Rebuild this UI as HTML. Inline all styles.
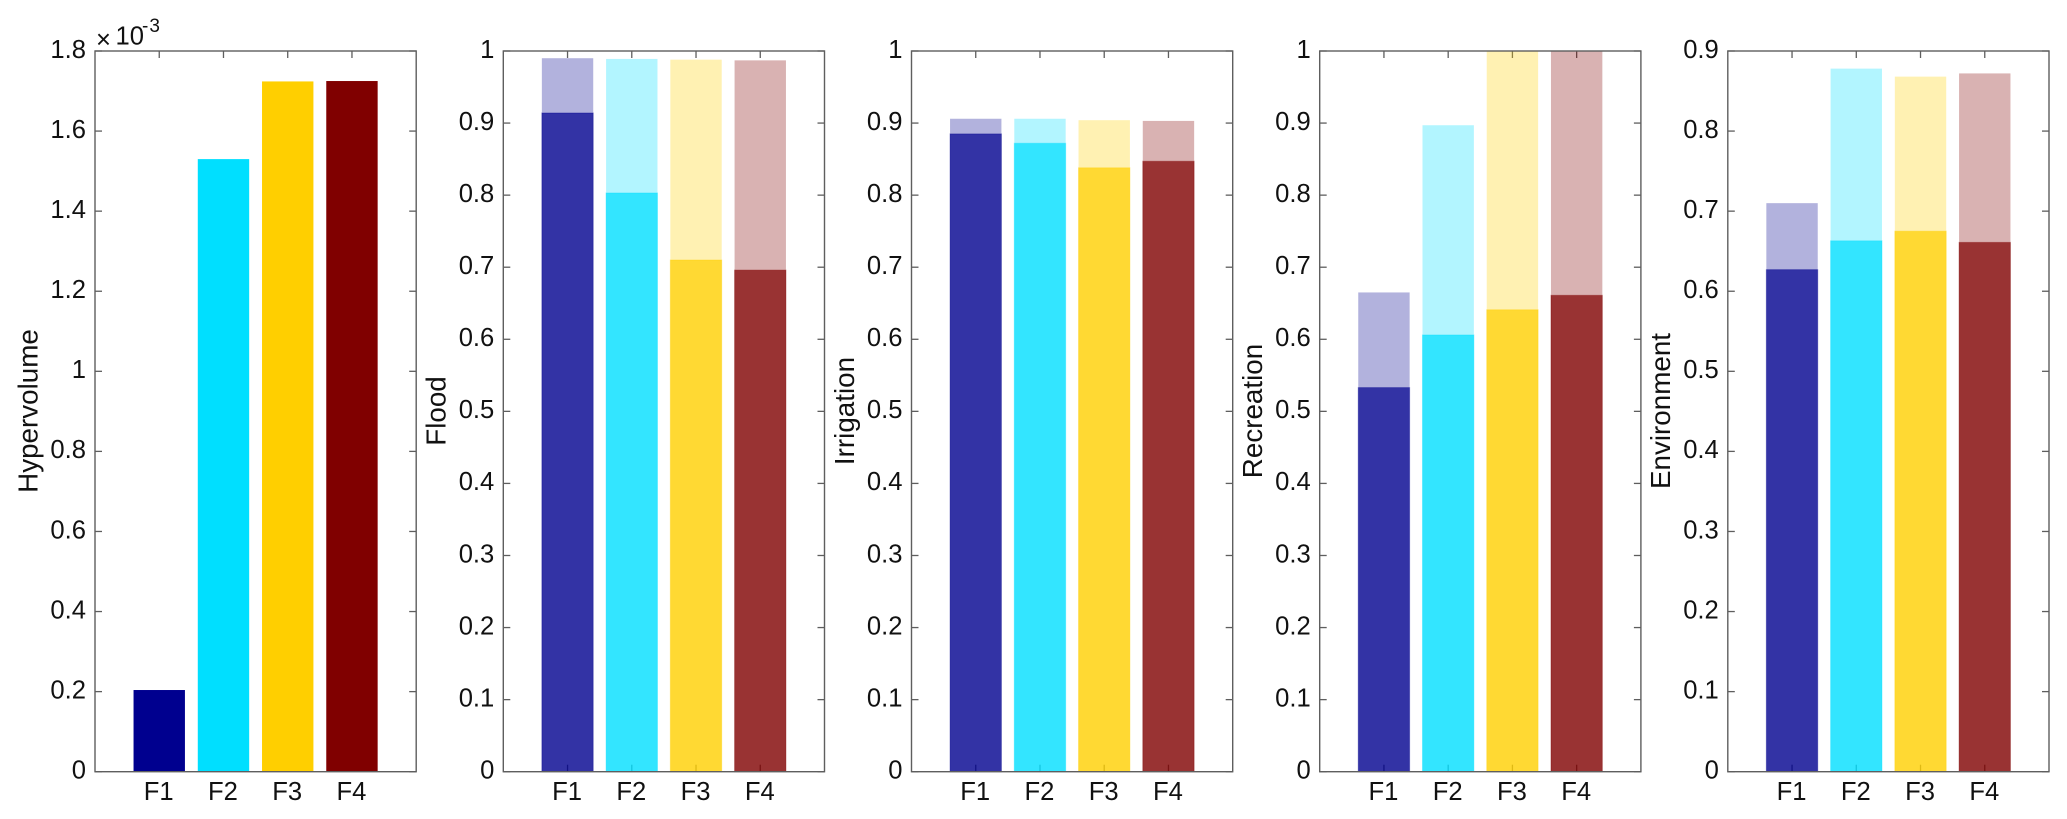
<!DOCTYPE html>
<html lang="en">
<head>
<meta charset="utf-8">
<title>Hypervolume and objective bar charts</title>
<style>
  html, body { margin: 0; padding: 0; background: #fff; }
  svg { display: block; font-family: "Liberation Sans", Arial, sans-serif; }
</style>
</head>
<body>
<svg id="chart" xmlns="http://www.w3.org/2000/svg" width="2067" height="819" viewBox="0 0 2067 819"></svg>
<script>
const categories = ['F1', 'F2', 'F3', 'F4'];
const hypervolumeValues = [0.204, 1.530, 1.724, 1.725];
const floodSolid = [0.914, 0.803, 0.710, 0.696];
const floodFaded = [0.990, 0.989, 0.988, 0.987];
const irrigationSolid = [0.885, 0.872, 0.838, 0.847];
const irrigationFaded = [0.906, 0.906, 0.904, 0.903];
const recreationSolid = [0.533, 0.606, 0.641, 0.661];
const recreationFaded = [0.665, 0.897, 1.0, 1.0];
const environmentSolid = [0.627, 0.663, 0.675, 0.661];
const environmentFaded = [0.710, 0.878, 0.868, 0.872];
const hypervolumeTicks = ['0', '0.2', '0.4', '0.6', '0.8', '1', '1.2', '1.4', '1.6', '1.8'];
const unitTicks = ['0', '0.1', '0.2', '0.3', '0.4', '0.5', '0.6', '0.7', '0.8', '0.9', '1'];
const environmentTicks = ['0', '0.1', '0.2', '0.3', '0.4', '0.5', '0.6', '0.7', '0.8', '0.9'];
const barColors = ['#00008f', '#00dfff', '#ffcf00', '#800000'];

const panels = [
  { key: 'hypervolume', title: 'Hypervolume', left: 95, solid: hypervolumeValues, faded: null, ticks: hypervolumeTicks },
  { key: 'flood', title: 'Flood', left: 503.3, solid: floodSolid, faded: floodFaded, ticks: unitTicks },
  { key: 'irrigation', title: 'Irrigation', left: 911.5, solid: irrigationSolid, faded: irrigationFaded, ticks: unitTicks },
  { key: 'recreation', title: 'Recreation', left: 1319.7, solid: recreationSolid, faded: recreationFaded, ticks: unitTicks },
  { key: 'environment', title: 'Environment', left: 1727.8, solid: environmentSolid, faded: environmentFaded, ticks: environmentTicks }
];

const svg = document.getElementById('chart');
const NS = 'http://www.w3.org/2000/svg';
const plotWidth = 321.2;
const plotTop = 51;
const plotBottom = 771.7;
const axisColor = '#5e5e5e';
const textColor = '#111';
const tickFont = 25.6;
const titleFont = 27.8;

function make(parent, tag, attrs, text) {
  const node = document.createElementNS(NS, tag);
  for (const k in attrs) node.setAttribute(k, attrs[k]);
  if (text !== undefined) node.textContent = text;
  parent.appendChild(node);
  return node;
}

panels.forEach(function (p) {
  const yMax = parseFloat(p.ticks[p.ticks.length - 1]);
  const xScale = function (v) { return p.left + (v / 5) * plotWidth; };
  const yScale = function (v) { return plotBottom - (v / yMax) * (plotBottom - plotTop); };
  const barWidth = 0.8 * (plotWidth / 5);

  const group = make(svg, 'g', {});
  
  

  // tick marks sit beneath the translucent bars
  p.ticks.forEach(function (label) {
    const y = yScale(parseFloat(label));
    const leftTick = make(group, 'line', { x1: p.left, x2: p.left + 7, y1: y, y2: y, stroke: axisColor, 'stroke-width': 1.3 });
    
    
    const rightTick = make(group, 'line', { x1: p.left + plotWidth - 7, x2: p.left + plotWidth, y1: y, y2: y, stroke: axisColor, 'stroke-width': 1.3 });
    
    
    const tickText = make(group, 'text', { x: p.left - 9, y: y + 6.8, 'text-anchor': 'end', 'font-size': tickFont, fill: textColor }, label);
    
    
  });

  categories.forEach(function (cat, i) {
    const cx = xScale(i + 1);
    const topTick = make(group, 'line', { x1: cx, x2: cx, y1: plotTop, y2: plotTop + 7, stroke: axisColor, 'stroke-width': 1.3 });
    
    
    const bottomTick = make(group, 'line', { x1: cx, x2: cx, y1: plotBottom - 7, y2: plotBottom, stroke: axisColor, 'stroke-width': 1.3 });
    
    
    const xText = make(group, 'text', { x: cx - 0.5, y: 800, 'text-anchor': 'middle', 'font-size': tickFont, fill: textColor }, cat);
    
    

    const color = barColors[i];
    const solidTop = yScale(p.solid[i]);
    if (p.faded) {
      const fadedTop = yScale(p.faded[i]);
      const fadedBar = make(group, 'rect', {
        x: cx - barWidth / 2, y: fadedTop, width: barWidth, height: Math.max(0, solidTop - fadedTop),
        fill: color, 'fill-opacity': 0.3
      });
      
      
    }
    const solidBar = make(group, 'rect', {
      x: cx - barWidth / 2, y: solidTop, width: barWidth, height: plotBottom - solidTop,
      fill: color, 'fill-opacity': p.faded ? 0.8 : 1,
      stroke: color, 'stroke-opacity': p.faded ? 0.35 : 0, 'stroke-width': 1
    });
    
    
  });

  const frame = make(group, 'rect', {
    x: p.left, y: plotTop, width: plotWidth, height: plotBottom - plotTop,
    fill: 'none', stroke: axisColor, 'stroke-width': 1.4
  });
  
  

  const baseline = p.left - 57.7;
  const midY = 411;
  const yTitle = make(group, 'text', {
    x: baseline, y: midY, 'text-anchor': 'middle', 'font-size': titleFont, fill: textColor,
    transform: 'rotate(-90 ' + baseline + ' ' + midY + ')'
  }, p.title);
  
  
});

const multiplier = make(svg, 'text', { x: 96, y: 48, 'font-size': tickFont, fill: textColor }, '×');


const base = make(svg, 'text', { x: 115.5, y: 44.3, 'font-size': tickFont, fill: textColor }, '10');


const exponent = make(svg, 'text', { x: 142, y: 32, 'font-size': 19, 'letter-spacing': 1, fill: textColor }, '-3');


</script>
</body>
</html>
